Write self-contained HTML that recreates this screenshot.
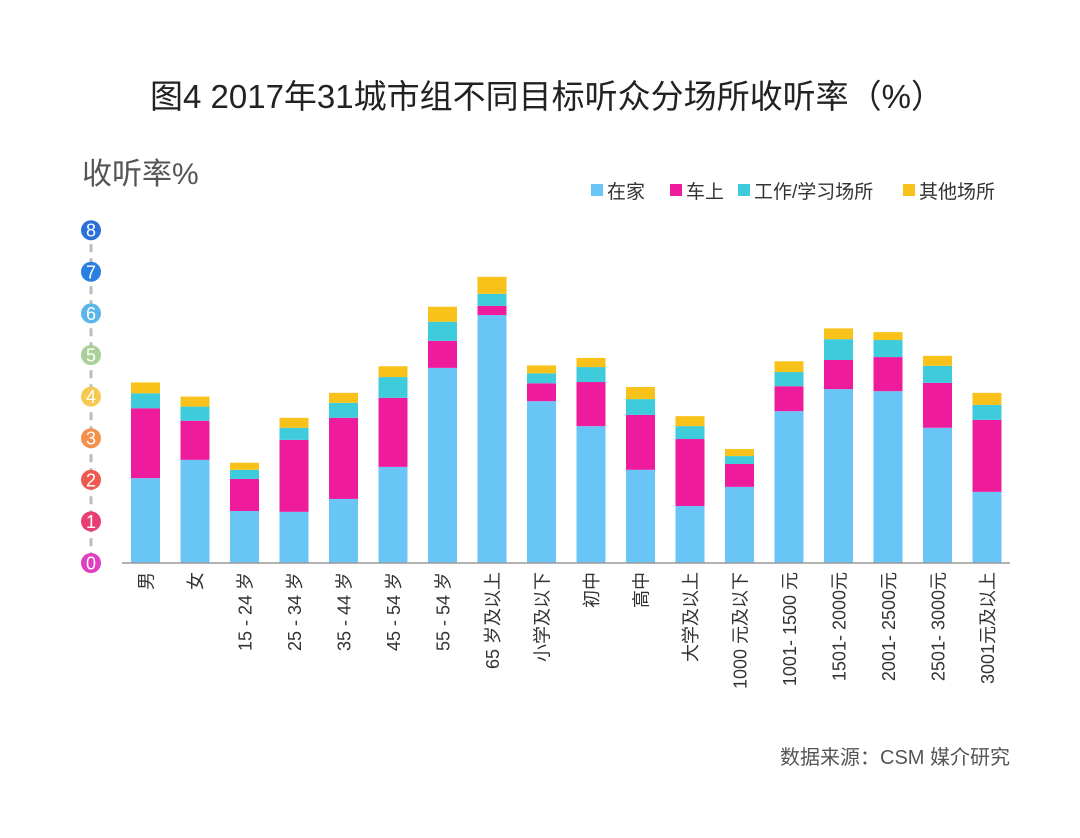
<!DOCTYPE html>
<html><head><meta charset="utf-8"><style>
body{margin:0;background:#fff;font-family:"Liberation Sans","Noto Sans CJK SC",sans-serif;}
#wrap{position:relative;width:1080px;height:838px;overflow:hidden;}
</style></head><body>
<div id="wrap">
<svg id="svg" width="1080" height="838" xmlns="http://www.w3.org/2000/svg">
<text x="547" y="108" text-anchor="middle" font-size="33" fill="#222" font-family="Liberation Sans,Noto Sans CJK SC,sans-serif">图4 2017年31城市组不同目标听众分场所收听率（%）</text>
<text x="82" y="184" font-size="30" fill="#555" font-family="Liberation Sans,Noto Sans CJK SC,sans-serif">收听率%</text>
<text x="1010" y="764" text-anchor="end" font-size="20" fill="#555" font-family="Liberation Sans,Noto Sans CJK SC,sans-serif">数据来源：CSM 媒介研究</text>
<g id="legend"></g>
<g id="yaxis"></g>
<g id="bars"></g>
<g id="xaxis"></g>
</svg>
</div>
<script>
const categories=["男","女","15 - 24 岁","25 - 34 岁","35 - 44 岁","45 - 54 岁","55 - 54 岁","65 岁及以上","小学及以下","初中","高中","大学及以上","1000 元及以下","1001- 1500 元","1501- 2000元","2001- 2500元","2501- 3000元","3001元及以上"];
const home=[2.04,2.48,1.25,1.23,1.54,2.31,4.69,5.96,3.89,3.29,2.24,1.37,1.83,3.65,4.18,4.13,3.25,1.71];
const car=[1.68,0.94,0.77,1.73,1.95,1.66,0.65,0.22,0.43,1.06,1.32,1.61,0.55,0.60,0.70,0.82,1.08,1.73];
const work=[0.36,0.34,0.22,0.29,0.36,0.50,0.46,0.29,0.24,0.36,0.38,0.31,0.19,0.34,0.50,0.41,0.41,0.36];
const other=[0.26,0.24,0.17,0.24,0.24,0.26,0.36,0.41,0.19,0.22,0.29,0.24,0.17,0.26,0.26,0.19,0.24,0.29];
const seriesNames=["在家","车上","工作/学习场所","其他场所"];
const yTicks=[0,1,2,3,4,5,6,7,8];
const NS="http://www.w3.org/2000/svg";
const colors=["#6ac5f7","#ee1c9c","#3ecbdb","#f8c21a"];
const tickColors=["#e040c0","#e83e74","#ee5a50","#f3904c","#f6c94f","#a9cf9a","#5ab6e8","#2a7fe0","#2a70d8"];
const y0=563,pxPer=41.6,x0=131,step=49.5,bw=29;
const y=v=>y0-v*pxPer;
const x=i=>x0+i*step;
function mk(tag,attrs,parent){const e=document.createElementNS(NS,tag);for(const k in attrs)e.setAttribute(k,attrs[k]);parent.appendChild(e);return e;}
const ya=document.getElementById('yaxis');
const dl=mk('line',{x1:91,x2:91,y1:y(8),y2:y(0),stroke:"#bbb","stroke-width":3,"stroke-dasharray":"8 6"},ya);


yTicks.forEach((t,i)=>{
 const c=mk('circle',{cx:91,cy:y(t),r:10,fill:tickColors[i]},ya);
 
 
 const tx=mk('text',{x:91,y:y(t)+6.5,"text-anchor":"middle","font-size":18,fill:"#fff"},ya);
 
 
 tx.textContent=t;
});
const xa=document.getElementById('xaxis');
const al=mk('line',{x1:122,x2:1010,y1:y0,y2:y0,stroke:"#999","stroke-width":1.5},xa);


const bg=document.getElementById('bars');
const series=[home,car,work,other];
categories.forEach((c,i)=>{
 let cum=0;
 series.forEach((s,k)=>{
  const r=mk('rect',{x:x(i),y:y(cum+s[i]),width:bw,height:s[i]*pxPer,fill:colors[k]},bg);
  
  
  cum+=s[i];
 });
 const cx=x(i)+bw/2+7;
 const t=mk('text',{x:cx,y:572,transform:`rotate(-90 ${cx} 572)`,"text-anchor":"end","font-size":18,fill:"#333","font-family":"Liberation Sans,Noto Sans CJK SC,sans-serif"},xa);
 
 
 t.textContent=c;
});
const lg=document.getElementById('legend');
const lx=[591,670,738,903];
seriesNames.forEach((n,k)=>{
 const r=mk('rect',{x:lx[k],y:184,width:12,height:12,fill:colors[k]},lg);
 
 
 const t=mk('text',{x:lx[k]+16,y:198,"font-size":19,fill:"#333","font-family":"Liberation Sans,Noto Sans CJK SC,sans-serif"},lg);
 
 
 t.textContent=n;
});
</script>
</body></html>
